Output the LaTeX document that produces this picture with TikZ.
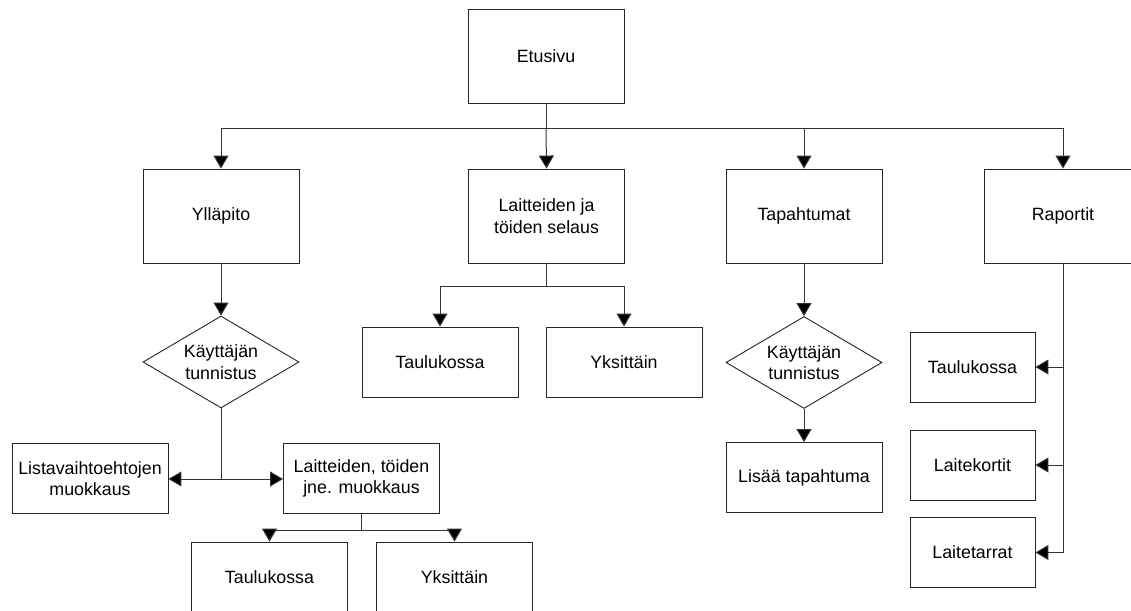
\documentclass[tikz,border=0pt]{standalone}
\usepackage{fontspec}
\setmainfont{Liberation Sans}
\usetikzlibrary{shapes.geometric,arrows.meta}
\begin{document}
\begin{tikzpicture}[x=1pt,y=-1pt,
  every node/.style={font=\fontsize{17.8}{21.5}\selectfont, align=center, text=black},
  box/.style={draw=black!85, line width=0.9pt, fill=white, minimum width=156, minimum height=94, inner sep=0},
  sbox/.style={box, minimum height=70},
  rbox/.style={box, minimum width=125, minimum height=70},
  dia/.style={draw=black!85, line width=0.9pt, shape=diamond, minimum width=156, minimum height=92, inner sep=0},
  wire/.style={draw=black!80, line width=1pt},
  arr/.style={wire, -{Triangle[width=15pt,length=13pt,fill=black]}}]
\clip (0,0) rectangle (1131,610);
\fill[white] (0,0) rectangle (1131,610);

% top level
\node[box] (et) at (546,56.5) {Etusivu};
\node[box] (yl) at (221,216) {Ylläpito};
\node[box] (sel) at (546.5,216) {Laitteiden ja\\töiden selaus};
\node[box] (tap) at (804,216) {Tapahtumat};
\node[box, minimum width=158] (rap) at (1063,216) {Raportit};

% maintenance branch
\node[dia] (d1) at (221,362) {};
\node at (d1) {Käyttäjän\\tunnistus};
\node[sbox] (lista) at (90,478.5) {Listavaihtoehtojen\\muokkaus};
\node[sbox] (muok) at (361.5,478.5) {Laitteiden, töiden\\jne. muokkaus};
\node[sbox] (mtau) at (269.5,577) {Taulukossa};
\node[sbox] (myks) at (454.5,577) {Yksittäin};

% browsing branch
\node[sbox] (stau) at (440,362) {Taulukossa};
\node[sbox] (syks) at (624,362) {Yksittäin};

% events branch
\node[dia] (d2) at (804,362.5) {};
\node at (d2) {Käyttäjän\\tunnistus};
\node[sbox] (lisaa) at (804,477.5) {Lisää tapahtuma};

% reports branch
\node[rbox] (rtau) at (972.5,367) {Taulukossa};
\node[rbox] (rkor) at (972.5,465) {Laitekortit};
\node[rbox] (rtar) at (972.5,552.5) {Laitetarrat};

% connectors
\coordinate (bus) at (546,128);
\draw[wire] (et.south) -- (bus);
\draw[arr] (bus) -| (yl.north);
\draw[arr] (bus) -- (sel.north);
\draw[arr] (bus) -| (tap.north);
\draw[arr] (bus) -| (rap.north);

\draw[arr] (yl.south) -- (d1.north);
\coordinate (j1) at (221,479);
\draw[wire] (d1.south) -- (j1);
\draw[arr] (j1) -- (lista.east |- j1);
\draw[arr] (j1) -- (muok.west |- j1);

\coordinate (j2) at (361.5,530);
\draw[wire] (muok.south) -- (j2);
\draw[arr] (j2) -| (mtau.north);
\draw[arr] (j2) -| (myks.north);

\coordinate (j3) at (546.5,286);
\draw[wire] (sel.south) -- (j3);
\draw[arr] (j3) -| (stau.north);
\draw[arr] (j3) -| (syks.north);

\draw[arr] (tap.south) -- (d2.north);
\draw[arr] (d2.south) -- (lisaa.north);

\draw[arr] (rap.south) |- (rtar.east);
\draw[arr] (rap.south |- rtau.east) -- (rtau.east);
\draw[arr] (rap.south |- rkor.east) -- (rkor.east);
\end{tikzpicture}
\end{document}
